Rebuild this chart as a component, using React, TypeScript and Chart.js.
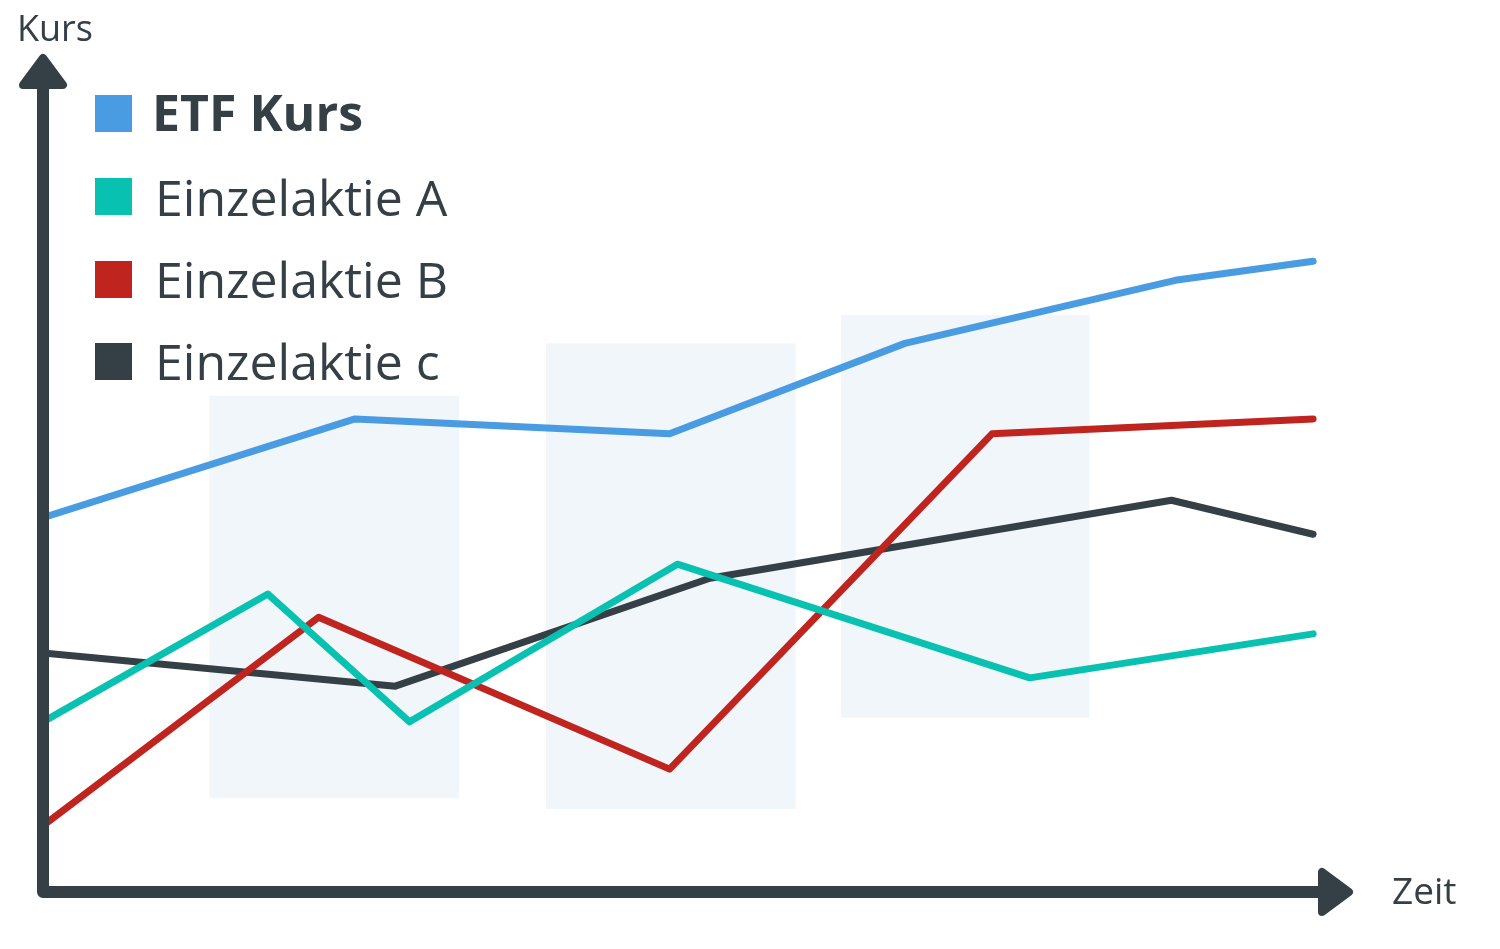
import React, { useEffect, useRef } from "react";
import { Chart, registerables } from "chart.js";

Chart.register(...registerables);

// ---- data (abstract units: time 0..100, price 0..100) ----
const seriesLabels = ["ETF Kurs", "Einzelaktie A", "Einzelaktie B", "Einzelaktie c"];
const seriesColors = ["#4a9ce2", "#08c1b0", "#c0241f", "#353f46"];

const etfX = [0, 24.0, 48.2, 66.3, 87.1, 97.7];
const etfY = [45.1, 57.0, 55.2, 66.1, 73.7, 76.0];

const aX = [0, 17.3, 28.2, 48.8, 75.9, 97.7];
const aY = [20.5, 35.9, 20.5, 39.5, 25.8, 31.1];

const bX = [0, 21.2, 48.2, 73.0, 97.7];
const bY = [8.0, 33.1, 14.8, 55.2, 57.0];

const cX = [0, 27.1, 51.3, 86.8, 97.7];
const cY = [28.8, 24.8, 37.8, 47.2, 43.1];

// shaded time bands
const bandStart = [12.8, 38.7, 61.4];
const bandEnd = [32.0, 57.9, 80.5];
const bandLow = [11.3, 10.0, 21.0];
const bandHigh = [59.8, 66.1, 69.5];

const yAxisTitle = "Kurs";
const xAxisTitle = "Zeit";

const INK = "#353f46";
const FONT = "'Open Sans', 'Noto Sans', sans-serif";

const zip = (xs: number[], ys: number[]) => xs.map((x, i) => ({ x, y: ys[i] }));

const bandsPlugin = {
  id: "bands",
  beforeDatasetsDraw(chart: any) {
    const { ctx, scales } = chart;
    const xs = scales.x;
    const ys = scales.y;
    ctx.save();
    ctx.fillStyle = "#f1f6fb";
    bandStart.forEach((s, i) => {
      const x0 = xs.getPixelForValue(s);
      const x1 = xs.getPixelForValue(bandEnd[i]);
      const y0 = ys.getPixelForValue(bandHigh[i]);
      const y1 = ys.getPixelForValue(bandLow[i]);
      ctx.fillRect(x0, y0, x1 - x0, y1 - y0);
    });
    ctx.restore();
  },
};

const decorPlugin = {
  id: "decor",
  afterDraw(chart: any) {
    const { ctx, chartArea } = chart;
    const L = chartArea.left;
    const B = chartArea.bottom;
    const R = chartArea.right;
    const T = chartArea.top - 4;
    ctx.save();
    // axes
    ctx.strokeStyle = INK;
    ctx.fillStyle = INK;
    ctx.lineWidth = 12;
    ctx.lineJoin = "round";
    ctx.lineCap = "round";
    ctx.beginPath();
    ctx.moveTo(L, T + 20);
    ctx.lineTo(L, B);
    ctx.lineTo(R - 20, B);
    ctx.stroke();
    // arrow heads
    ctx.lineWidth = 8;
    ctx.beginPath();
    ctx.moveTo(L, T);
    ctx.lineTo(L + 20, T + 27);
    ctx.lineTo(L - 20, T + 27);
    ctx.closePath();
    ctx.fill();
    ctx.stroke();
    ctx.beginPath();
    ctx.moveTo(R + 6, B);
    ctx.lineTo(R - 21, B - 20);
    ctx.lineTo(R - 21, B + 20);
    ctx.closePath();
    ctx.fill();
    ctx.stroke();

    // axis titles
    ctx.fillStyle = INK;
    ctx.textAlign = "left";
    ctx.textBaseline = "alphabetic";
    ctx.font = `36px ${FONT}`;
    ctx.fillText(yAxisTitle, 17, 41);
    ctx.font = `37px ${FONT}`;
    ctx.fillText(xAxisTitle, 1392, 904);

    // legend
    const boxTops = [95, 178, 261, 343];
    const baselines = [131, 216, 298, 380];
    chart.data.datasets.forEach((ds: any, i: number) => {
      ctx.fillStyle = ds.borderColor;
      ctx.fillRect(95, boxTops[i], 37, 37);
      ctx.fillStyle = INK;
      ctx.font = `${i === 0 ? "bold " : ""}50px ${FONT}`;
      ctx.textBaseline = "alphabetic";
      ctx.fillText(ds.label, i === 0 ? 152 : 155, baselines[i]);
    });
    ctx.restore();
  },
};

export default function App() {
  const ref = useRef<HTMLCanvasElement | null>(null);
  useEffect(() => {
    document.body.style.margin = "0";
    const xsList = [etfX, aX, bX, cX];
    const ysList = [etfY, aY, bY, cY];
    const chart = new Chart(ref.current as HTMLCanvasElement, {
      type: "line",
      data: {
        datasets: seriesLabels.map((label, i) => ({
          label,
          data: zip(xsList[i], ysList[i]),
          borderColor: seriesColors[i],
          backgroundColor: seriesColors[i],
          borderWidth: 7,
          borderCapStyle: "round",
          borderJoinStyle: "round",
          pointRadius: 0,
          tension: 0,
          fill: false,
        })),
      },
      options: {
        animation: false,
        responsive: true,
        maintainAspectRatio: false,
        layout: { padding: { left: 43, right: 157, top: 62, bottom: 57 } },
        scales: {
          x: { type: "linear", min: 0, max: 100, display: false },
          y: { type: "linear", min: 0, max: 100, display: false },
        },
        plugins: {
          legend: { display: false },
          tooltip: { enabled: false },
        },
      },
      plugins: [bandsPlugin, decorPlugin],
    } as any);
    return () => chart.destroy();
  }, []);
  return (
    <div style={{ position: "absolute", left: 0, top: 0, width: 1500, height: 949, background: "#fff" }}>
      <canvas ref={ref} />
    </div>
  );
}
